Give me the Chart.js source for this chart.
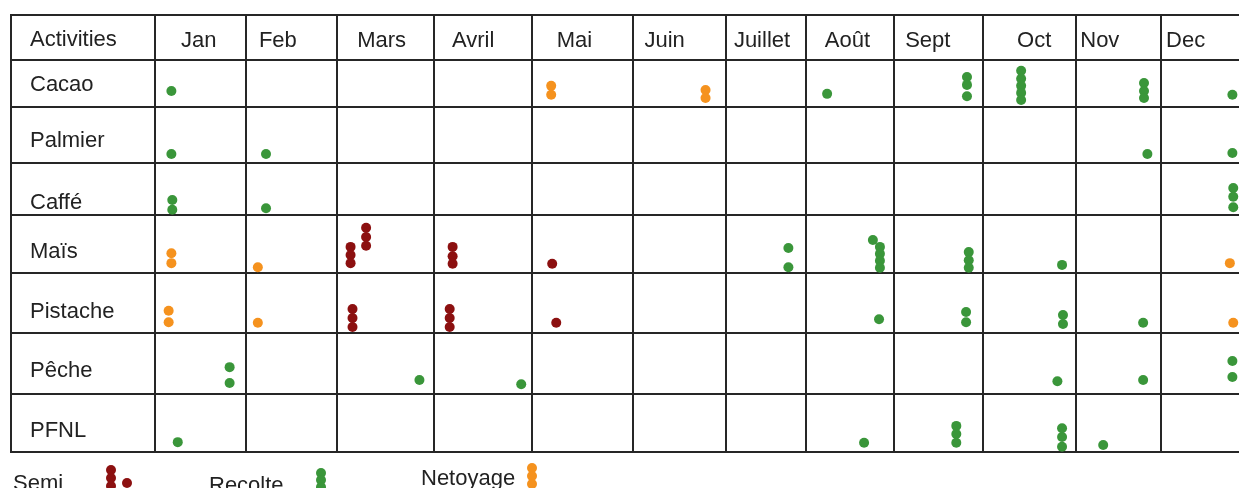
<!DOCTYPE html>
<html>
<head>
<meta charset="utf-8">
<script src="https://cdn.jsdelivr.net/npm/chart.js@4.4.1/dist/chart.umd.min.js"></script>
<style>
  html, body { margin: 0; padding: 0; background: #fff; }
  #wrap { width: 1239px; height: 488px; }
</style>
</head>
<body>
<div id="wrap"><canvas id="planning"></canvas></div>
<script>
var months = ['Jan', 'Feb', 'Mars', 'Avril', 'Mai', 'Juin', 'Juillet', 'Août', 'Sept', 'Oct', 'Nov', 'Dec'];
var activities = ['Cacao', 'Palmier', 'Caffé', 'Maïs', 'Pistache', 'Pêche', 'PFNL'];

// one entry per dot: [activity, place in the year (Jan = 0..1 ... Dec = 11..12), height in the row (0 top, 1 bottom)]
var semi = [
  ['Maïs', 2.14, 0.55], ['Maïs', 2.14, 0.69], ['Maïs', 2.14, 0.83],
  ['Maïs', 2.30, 0.22], ['Maïs', 2.30, 0.38], ['Maïs', 2.30, 0.53],
  ['Maïs', 3.19, 0.55], ['Maïs', 3.19, 0.71], ['Maïs', 3.19, 0.84],
  ['Maïs', 4.20, 0.84],
  ['Pistache', 2.16, 0.60], ['Pistache', 2.16, 0.75], ['Pistache', 2.16, 0.90],
  ['Pistache', 3.16, 0.60], ['Pistache', 3.16, 0.75], ['Pistache', 3.16, 0.90],
  ['Pistache', 4.24, 0.83]
];
var recolte = [
  ['Cacao', 0.18, 0.66], ['Cacao', 7.24, 0.72],
  ['Cacao', 8.82, 0.36], ['Cacao', 8.82, 0.53], ['Cacao', 8.82, 0.77],
  ['Cacao', 9.41, 0.23], ['Cacao', 9.41, 0.40], ['Cacao', 9.41, 0.55], ['Cacao', 9.41, 0.70], ['Cacao', 9.41, 0.85],
  ['Cacao', 10.80, 0.49], ['Cacao', 10.80, 0.66], ['Cacao', 10.80, 0.81],
  ['Cacao', 11.84, 0.74],
  ['Palmier', 0.18, 0.84], ['Palmier', 1.22, 0.84], ['Palmier', 10.84, 0.84], ['Palmier', 11.84, 0.82],
  ['Caffé', 0.19, 0.71], ['Caffé', 0.19, 0.90], ['Caffé', 1.22, 0.87],
  ['Caffé', 11.85, 0.48], ['Caffé', 11.85, 0.65], ['Caffé', 11.85, 0.85],
  ['Maïs', 6.78, 0.57], ['Maïs', 6.78, 0.90],
  ['Maïs', 7.76, 0.43], ['Maïs', 7.84, 0.55], ['Maïs', 7.84, 0.67], ['Maïs', 7.84, 0.79], ['Maïs', 7.84, 0.91],
  ['Maïs', 8.84, 0.64], ['Maïs', 8.84, 0.78], ['Maïs', 8.84, 0.91],
  ['Maïs', 9.85, 0.86],
  ['Pistache', 7.83, 0.77], ['Pistache', 8.81, 0.65], ['Pistache', 8.81, 0.82],
  ['Pistache', 9.86, 0.70], ['Pistache', 9.86, 0.85], ['Pistache', 10.79, 0.83],
  ['Pêche', 0.82, 0.56], ['Pêche', 0.82, 0.82], ['Pêche', 2.85, 0.77], ['Pêche', 3.89, 0.84],
  ['Pêche', 9.80, 0.79], ['Pêche', 10.79, 0.77], ['Pêche', 11.84, 0.46], ['Pêche', 11.84, 0.72],
  ['PFNL', 0.25, 0.83], ['PFNL', 7.66, 0.84],
  ['PFNL', 8.70, 0.55], ['PFNL', 8.70, 0.69], ['PFNL', 8.70, 0.84],
  ['PFNL', 9.85, 0.59], ['PFNL', 9.85, 0.74], ['PFNL', 9.85, 0.91],
  ['PFNL', 10.32, 0.88]
];
var netoyage = [
  ['Cacao', 4.19, 0.55], ['Cacao', 4.19, 0.74],
  ['Cacao', 5.78, 0.64], ['Cacao', 5.78, 0.81],
  ['Maïs', 0.18, 0.66], ['Maïs', 0.18, 0.83], ['Maïs', 1.13, 0.90], ['Maïs', 11.81, 0.83],
  ['Pistache', 0.15, 0.63], ['Pistache', 0.15, 0.82], ['Pistache', 1.13, 0.83], ['Pistache', 11.85, 0.83]
];

// table layout: column widths (Activities + 12 months) and row heights (header + 7 rows), in px
var colWidths = [144, 91, 91, 97, 98, 101, 93, 80, 88, 89, 93, 85, 85];
var rowHeights = [45, 47, 56, 52, 58, 60, 61, 58];
var monthLabelAt = [0.48, 0.35, 0.46, 0.40, 0.42, 0.34, 0.45, 0.47, 0.38, 0.55, 0.28, 0.29];
var rowLabelAt = [0.56, 0.53, 0.60, 0.77, 0.64, 0.65, 0.62, 0.64];

var green = '#3a963a', red = '#8c1010', orange = '#f5921e';
var lineColor = '#262626';

// linear scale whose unit cells have their own pixel sizes
class CellScale extends Chart.LinearScale {
  cellOffset(v) {
    var sizes = this.options.cells, t = v - this.options.origin, s = 0;
    for (var i = 0; i < sizes.length && t > 0; i++) {
      s += sizes[i] * Math.min(1, t);
      t -= 1;
    }
    return s;
  }
  getPixelForValue(v) {
    var a = this.cellOffset(this.min), b = this.cellOffset(this.max);
    return this.getPixelForDecimal((this.cellOffset(v) - a) / (b - a));
  }
}
CellScale.id = 'cells';
CellScale.defaults = Chart.LinearScale.defaults;
Chart.register(CellScale);

function toPoints(list) {
  return list.map(function (d) {
    return { x: d[1], y: activities.indexOf(d[0]) + 1 + d[2] };
  });
}

var xTicks = [], yTicks = [];
for (var i = -1; i <= 11; i++) xTicks.push(i);
months.forEach(function (m, i) { xTicks.push(i + monthLabelAt[i]); });
for (var j = 0; j <= 8; j++) yTicks.push(j);
rowLabelAt.forEach(function (f, j) { yTicks.push(j + f); });

function gridColor(ctx) {
  return ctx.tick && Number.isInteger(ctx.tick.value) ? lineColor : 'rgba(0,0,0,0)';
}

function flatAxis(s) {
  if (s.isHorizontal()) s.height = 0; else s.width = 0;
  s.paddingTop = 0; s.paddingBottom = 0; s.paddingLeft = 0; s.paddingRight = 0;
}

var legendPlugin = {
  id: 'dotLegend',
  afterDraw: function (chart) {
    var c = chart.ctx;
    function dot(x, y, col) {
      c.beginPath();
      c.arc(x, y, 5, 0, Math.PI * 2);
      c.fillStyle = col;
      c.fill();
    }
    c.save();
    c.font = '22px "Liberation Sans"';
    c.fillStyle = '#222';
    c.textBaseline = 'middle';
    c.fillText('Semi', 13, 484);
    c.fillText('Recolte', 209, 486);
    c.fillText('Netoyage', 421, 479);
    dot(111, 470, red); dot(111, 478, red); dot(111, 486, red); dot(127, 483, red);
    dot(321, 473, green); dot(321, 480, green); dot(321, 487, green);
    dot(532, 468, orange); dot(532, 476, orange); dot(532, 484, orange);
    c.restore();
  }
};

Chart.defaults.font.family = '"Liberation Sans", Arial, sans-serif';
Chart.defaults.font.size = 22;
Chart.defaults.color = '#222';

var ctx = document.getElementById('planning');
var myChart = new Chart(ctx, {
  type: 'scatter',
  data: {
    datasets: [
      { label: 'Semi', data: toPoints(semi), backgroundColor: red, borderColor: red },
      { label: 'Recolte', data: toPoints(recolte), backgroundColor: green, borderColor: green },
      { label: 'Netoyage', data: toPoints(netoyage), backgroundColor: orange, borderColor: orange }
    ]
  },
  options: {
    responsive: true,
    maintainAspectRatio: false,
    animation: false,
    events: [],
    layout: { autoPadding: false, padding: { left: 11, top: 15, right: 0, bottom: 36 } },
    elements: { point: { radius: 5, borderWidth: 0, hoverRadius: 5 } },
    datasets: { scatter: { clip: false } },
    plugins: { legend: { display: false }, tooltip: { enabled: false } },
    scales: {
      x: {
        type: 'cells',
        position: 'top',
        cells: colWidths,
        origin: -1,
        min: -1,
        max: 11 + 78 / 85,
        afterBuildTicks: function (s) { s.ticks = xTicks.map(function (v) { return { value: v }; }); },
        afterFit: flatAxis,
        grid: { color: gridColor, lineWidth: 2, drawTicks: false },
        border: { display: true, color: lineColor, width: 2 },
        ticks: {
          autoSkip: false,
          maxRotation: 0,
          mirror: true,
          padding: 13,
          callback: function (v) { return Number.isInteger(v) ? '' : months[Math.floor(v)]; }
        }
      },
      y: {
        type: 'cells',
        position: 'left',
        reverse: true,
        cells: rowHeights,
        origin: 0,
        min: 0,
        max: 8,
        afterBuildTicks: function (s) { s.ticks = yTicks.map(function (v) { return { value: v }; }); },
        afterFit: flatAxis,
        grid: { color: gridColor, lineWidth: 2, drawTicks: false },
        border: { display: true, color: lineColor, width: 2 },
        ticks: {
          autoSkip: false,
          mirror: true,
          padding: 19,
          callback: function (v) {
            if (Number.isInteger(v)) return '';
            var r = Math.floor(v);
            return r === 0 ? 'Activities' : activities[r - 1];
          }
        }
      }
    }
  },
  plugins: [legendPlugin]
});
</script>
</body>
</html>
